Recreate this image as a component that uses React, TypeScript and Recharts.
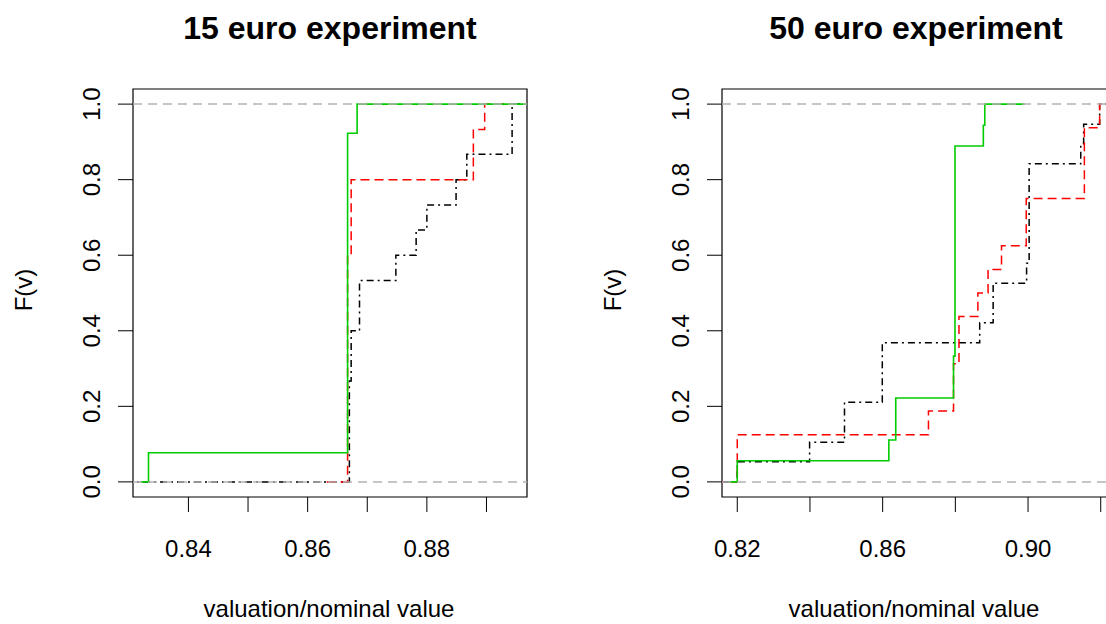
import React from "react";
import {
  ComposedChart,
  Line,
  ReferenceArea,
  ReferenceLine,
  XAxis,
  YAxis,
} from "recharts";

// ECDF step points: valuation/nominal value -> F(v)
// 15 euro experiment
const E15_BLACK_V = [0.8, 0.867, 0.8673, 0.8687, 0.8748, 0.8782, 0.88, 0.8849, 0.8867, 0.8943, 0.91];
const E15_BLACK_F = [0, 0.267, 0.4, 0.533, 0.6, 0.667, 0.733, 0.8, 0.867, 1, 1];
const E15_RED_V = [0.8632, 0.8667, 0.8673, 0.8878, 0.8897, 0.8946];
const E15_RED_F = [0, 0.6, 0.8, 0.933, 1, 1];
const E15_GREEN_V = [0.8319, 0.8333, 0.8667, 0.8683, 0.91];
const E15_GREEN_F = [0, 0.077, 0.923, 1, 1];

// 50 euro experiment
const E50_BLACK_V = [0.81, 0.82, 0.8399, 0.8495, 0.8599, 0.8867, 0.8904, 0.8996, 0.9003, 0.9145, 0.9153, 0.9197, 0.93];
const E50_BLACK_F = [0, 0.053, 0.105, 0.211, 0.368, 0.421, 0.526, 0.579, 0.842, 0.895, 0.947, 1, 1];
const E50_RED_V = [0.81, 0.82, 0.8726, 0.8795, 0.881, 0.8862, 0.889, 0.8927, 0.8995, 0.9155, 0.9197, 0.93];
const E50_RED_F = [0, 0.125, 0.1875, 0.3125, 0.4375, 0.5, 0.5625, 0.625, 0.75, 0.9375, 1, 1];
const E50_GREEN_V = [0.8176, 0.82, 0.8617, 0.8636, 0.8795, 0.8799, 0.8877, 0.8881, 0.8991];
const E50_GREEN_F = [0, 0.056, 0.111, 0.222, 0.333, 0.889, 0.944, 1, 1];

const Y_TICKS = [0, 0.2, 0.4, 0.6, 0.8, 1];
const E15_X_TICKS = [0.84, 0.85, 0.86, 0.87, 0.88, 0.89];
const E15_X_LABELS = ["0.84", "0.86", "0.88"];
const E50_X_TICKS = [0.82, 0.84, 0.86, 0.88, 0.9, 0.92];
const E50_X_LABELS = ["0.82", "0.86", "0.90"];

const FONT = "'Liberation Sans', Arial, Helvetica, sans-serif";
const GREEN = "#00cd00";
const RED = "#ff0000";
const GREY = "#b3b3b3";

const Y_DOMAIN: [number, number] = [-0.04, 1.04];

function pts(v: number[], f: number[]) {
  return v.map((x, i) => ({ v: x, F: f[i] }));
}

function RotTick(props: any) {
  const { x, y, payload } = props;
  return (
    <text
      x={x}
      y={y}
      transform={`rotate(-90, ${x}, ${y})`}
      textAnchor="middle"
      fontSize={24}
      fontFamily={FONT}
      fill="#000"
    >
      {payload.value.toFixed(1)}
    </text>
  );
}

interface PanelProps {
  left: number;
  xDomain: [number, number];
  xTicks: number[];
  xLabels: string[];
  black: { v: number; F: number }[];
  red: { v: number; F: number }[];
  green: { v: number; F: number }[];
}

function Panel({ left, xDomain, xTicks, xLabels, black, red, green }: PanelProps) {
  return (
    <div style={{ position: "absolute", left, top: 0 }}>
      <ComposedChart
        width={589}
        height={624}
        margin={{ top: 89, right: 62, bottom: 67, left: 0 }}
      >
        <XAxis
          dataKey="v"
          type="number"
          domain={xDomain}
          allowDataOverflow
          ticks={xTicks}
          interval={0}
          tickFormatter={(t: number) => (xLabels.includes(t.toFixed(2)) ? t.toFixed(2) : "")}
          axisLine={false}
          tickLine={{ stroke: "#000" }}
          tickSize={15}
          tickMargin={28}
          height={60}
          tick={{ fill: "#000", fontSize: 24, fontFamily: FONT }}
        />
        <YAxis
          dataKey="F"
          type="number"
          domain={Y_DOMAIN}
          allowDataOverflow
          ticks={Y_TICKS}
          interval={0}
          axisLine={false}
          tickLine={{ stroke: "#000" }}
          tickSize={15}
          tickMargin={18}
          width={133}
          tick={<RotTick />}
        />
        <Line
          data={black}
          dataKey="F"
          type="stepAfter"
          stroke="#000"
          strokeWidth={1.5}
          strokeDasharray="2 4 7 4"
          dot={false}
          activeDot={false}
          isAnimationActive={false}
        />
        <Line
          data={red}
          dataKey="F"
          type="stepAfter"
          stroke={RED}
          strokeWidth={1.5}
          strokeDasharray="9 5"
          dot={false}
          activeDot={false}
          isAnimationActive={false}
        />
        <Line
          data={green}
          dataKey="F"
          type="stepAfter"
          stroke={GREEN}
          strokeWidth={1.6}
          dot={false}
          activeDot={false}
          isAnimationActive={false}
        />
        <ReferenceLine y={0} stroke={GREY} strokeWidth={1.5} strokeDasharray="9 6" />
        <ReferenceLine y={1} stroke={GREY} strokeWidth={1.5} strokeDasharray="9 6" />
        <ReferenceArea
          x1={xDomain[0]}
          x2={xDomain[1]}
          y1={Y_DOMAIN[0]}
          y2={Y_DOMAIN[1]}
          fill="none"
          fillOpacity={0}
          stroke="#000"
          strokeWidth={1.2}
        />
      </ComposedChart>
    </div>
  );
}

export default function App() {
  return (
    <div
      style={{
        position: "fixed",
        left: 0,
        top: 0,
        width: 1106,
        height: 624,
        overflow: "hidden",
        background: "#fff",
      }}
    >
      <Panel
        left={0}
        xDomain={[0.8307, 0.8968]}
        xTicks={E15_X_TICKS}
        xLabels={E15_X_LABELS}
        black={pts(E15_BLACK_V, E15_BLACK_F)}
        red={pts(E15_RED_V, E15_RED_F)}
        green={pts(E15_GREEN_V, E15_GREEN_F)}
      />
      <Panel
        left={589}
        xDomain={[0.8158, 0.9242]}
        xTicks={E50_X_TICKS}
        xLabels={E50_X_LABELS}
        black={pts(E50_BLACK_V, E50_BLACK_F)}
        red={pts(E50_RED_V, E50_RED_F)}
        green={pts(E50_GREEN_V, E50_GREEN_F)}
      />
      <svg
        width={1106}
        height={624}
        style={{ position: "absolute", left: 0, top: 0, pointerEvents: "none" }}
        fontFamily={FONT}
      >
        <text x={330} y={39} textAnchor="middle" fontSize={32} fontWeight="bold">
          15 euro experiment
        </text>
        <text x={916} y={39} textAnchor="middle" fontSize={32} fontWeight="bold">
          50 euro experiment
        </text>
        <text x={329} y={617} textAnchor="middle" fontSize={24}>
          valuation/nominal value
        </text>
        <text x={914} y={617} textAnchor="middle" fontSize={24}>
          valuation/nominal value
        </text>
        <text x={32} y={290} transform="rotate(-90, 32, 290)" textAnchor="middle" fontSize={24}>
          F(v)
        </text>
        <text x={621} y={290} transform="rotate(-90, 621, 290)" textAnchor="middle" fontSize={24}>
          F(v)
        </text>
      </svg>
    </div>
  );
}
